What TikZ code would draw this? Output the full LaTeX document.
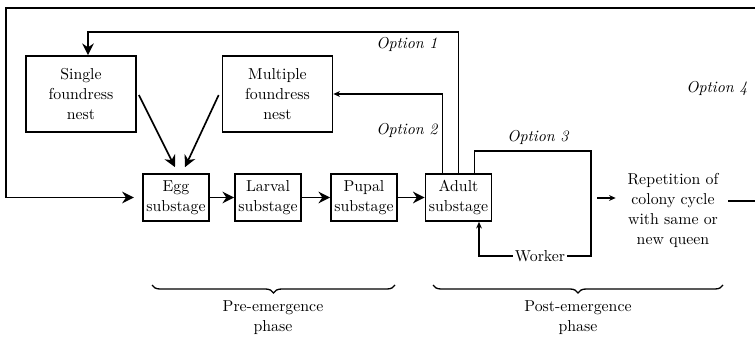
\documentclass[tikz,border=0pt]{standalone}
\usetikzlibrary{positioning, arrows.meta, calc, decorations.pathreplacing}

\tikzset{
	every node/.style={font=\fontsize{9.5}{12}\selectfont},
	nestbox/.style={draw=black, line width=1pt, minimum width=66pt,
		minimum height=45.6pt, align=center},
	stagebox/.style={draw=black, line width=1pt, minimum width=39.6pt,
		minimum height=28.2pt, inner sep=1pt, align=center},
	optlabel/.style={font=\itshape\fontsize{9.5}{12}\selectfont},
	big/.style={-{Stealth[length=7pt, width=7pt]}, line width=1pt},
	small/.style={-{Stealth[length=4pt, width=3.5pt]}, line width=0.8pt},
	phasebrace/.style={decorate, decoration={brace, mirror, amplitude=4.8pt}, line width=0.8pt}
}

\begin{document}
\begin{tikzpicture}[x=0.6pt, y=-0.6pt]
	
	\useasboundingbox (0,0) rectangle (755,339);
	
	% Nest boxes
	\node[nestbox] (single) at (81,94) {Single\\foundress\\nest};
	\node[nestbox] (multiple) at (277.5,94) {Multiple\\foundress\\nest};
	
	% Substages
	\node[stagebox] (egg) at (176,197.5) {Egg\\substage};
	\node[stagebox] (larval) at (268,197.5) {Larval\\substage};
	\node[stagebox] (pupal) at (364,197.5) {Pupal\\substage};
	\node[stagebox] (adult) at (458.5,197.5) {Adult\\substage};
	
	% Colony cycle and worker
	\node[align=center] (rep) at (673,210)
	{Repetition of\\colony cycle\\with same or\\new queen};
	\node[inner sep=1pt] (worker) at (540,256) {Worker};
	
	% Option labels
	\node[optlabel] (opt1) at (407,44) {Option 1};
	\node[optlabel] (opt2) at (407,130) {Option 2};
	\node[optlabel] (opt3) at (538,137) {Option 3};
	\node[optlabel] (opt4) at (717,88) {Option 4};
	
	% Phases
	\node[align=center] (pre) at (273,317.5) {Pre-emergence\\phase};
	\node[align=center] (post) at (578,317.5) {Post-emergence\\phase};
	\draw[phasebrace] (152,285) -- (395,285);
	\draw[phasebrace] (433,285) -- (723,285);
	
	% Connections
	
	\draw[big] ($(single.east)+(2,1)$) -- ($(egg.north)+(-1,-6)$);
	\draw[big] ($(multiple.west)+(-3,1)$) -- ($(egg.north)+(9,-6)$);
	
	\draw[big] (egg) -- (larval);
	\draw[big] (larval) -- (pupal);
	\draw[big] (pupal) -- (adult);
	
	% Option 1
	\draw[big] (adult.north) -- (adult.north |- 0,32) -| ($(single.north)+(7,0)$);
	
	% Option 2
	\draw[small, line width=1pt] ($(adult.north)+(-16,0)$) |- (multiple.east);
	
	% Option 3
	\draw[line width=0.8pt] ($(adult.north)+(16,0)$) |- (591,151) -- (591,256) -- (worker.east);
	\draw[small] (worker.west) -| ($(adult.south)+(20.5,0)$);
	
	% Option 4
	\draw[small] (597,198) -- ($(rep.west)+(-6,-12)$);
	\draw[big, shorten >=5pt] ($(rep.east)+(4,-9)$) -- (760,201) -- (760,8) -- (6,8) |- (egg.west);
	
\end{tikzpicture}
\end{document}
